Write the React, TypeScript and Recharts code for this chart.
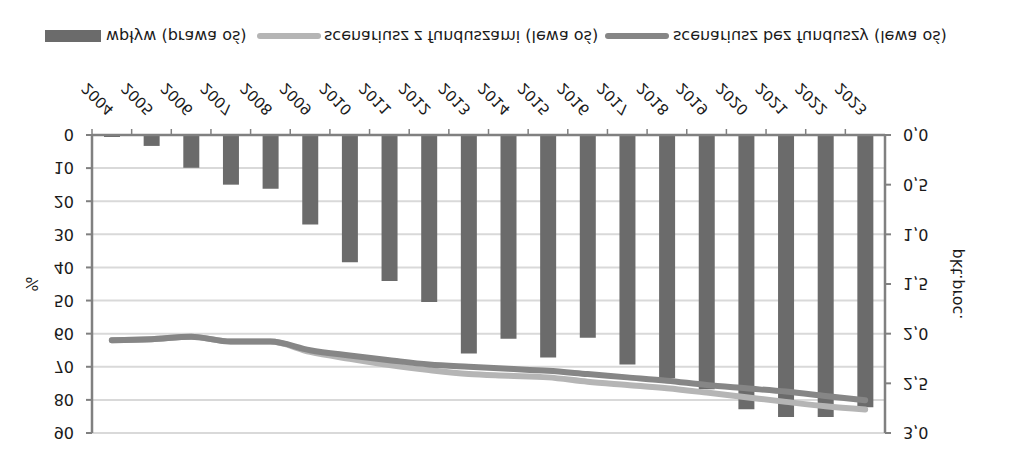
import React from "react";
import { ComposedChart, Bar, Line, XAxis, YAxis, CartesianGrid, Legend } from "recharts";

// The reference is printed upside down, so the chart is drawn normally and flipped with CSS.

const years = ["2004", "2005", "2006", "2007", "2008", "2009", "2010", "2011", "2012", "2013",
  "2014", "2015", "2016", "2017", "2018", "2019", "2020", "2021", "2022", "2023"];

// wpływ, pkt proc. (right axis)
const wplyw = [0.02, 0.11, 0.33, 0.5, 0.54, 0.9, 1.28, 1.47, 1.68, 2.2,
  2.05, 2.24, 2.04, 2.31, 2.45, 2.56, 2.76, 2.84, 2.84, 2.74];

// scenariusz z funduszami, % (left axis)
const zFunduszami = [62.0, 61.7, 60.9, 62.4, 62.4, 65.5, 67.6, 69.5, 71.0, 72.2,
  72.7, 73.2, 74.5, 75.5, 76.5, 77.8, 79.2, 80.6, 81.9, 82.9];

// scenariusz bez funduszy, % (left axis)
const bezFunduszy = [62.0, 61.7, 60.9, 62.4, 62.4, 65.0, 66.6, 68.0, 69.3, 70.0,
  70.6, 71.2, 72.2, 73.2, 74.2, 75.5, 76.5, 77.5, 78.8, 80.1];

const leftTicks = [0, 10, 20, 30, 40, 50, 60, 70, 80, 90];
const rightTicks = [0, 0.5, 1, 1.5, 2, 2.5, 3];

const chartData = years.map((year, i) => ({
  year,
  wplyw: wplyw[i],
  zFunduszami: zFunduszami[i],
  bezFunduszy: bezFunduszy[i],
}));

const FONT = "'DejaVu Sans', Verdana, sans-serif";
const AXIS = "#808080";
const BAR = "#6b6b6b";
const LIGHT = "#b5b5b5";
const DARK = "#868686";

const YearTick = (props: any) => {
  const { x, y, payload } = props;
  const half = payload && payload.offset ? payload.offset : 19.8;
  const ax = x + 3;
  const ay = y + 18;
  return (
    <g>
      <line x1={x - half} x2={x - half} y1={y - 8} y2={y - 2} stroke={AXIS} strokeWidth={1.5} />
      <text
        x={ax}
        y={ay}
        transform={`rotate(-45, ${ax}, ${ay})`}
        textAnchor="end"
        fontSize={15}
        fontFamily={FONT}
        fill="#1a1a1a"
      >
        {payload.value}
      </text>
    </g>
  );
};

const LeftTitle = (props: any) => {
  const vb = props.viewBox || {};
  const cx = 32;
  const cy = (vb.y || 0) + (vb.height || 0) / 2;
  return (
    <text x={cx} y={cy} transform={`rotate(-90, ${cx}, ${cy})`} textAnchor="middle"
      dominantBaseline="central" fontSize={16} fontFamily={FONT} fill="#1a1a1a">
      %
    </text>
  );
};

const RightTitle = (props: any) => {
  const vb = props.viewBox || {};
  const cx = 956;
  const cy = (vb.y || 0) + (vb.height || 0) / 2;
  return (
    <text x={cx} y={cy} transform={`rotate(-90, ${cx}, ${cy})`} textAnchor="middle"
      dominantBaseline="central" fontSize={16} fontFamily={FONT} fill="#1a1a1a">
      pkt.proc.
    </text>
  );
};

const LegendBox = () => {
  const text: React.CSSProperties = {
    position: "absolute",
    top: 6,
    fontSize: 16,
    fontFamily: FONT,
    color: "#1a1a1a",
    whiteSpace: "nowrap",
    lineHeight: "16px",
  };
  return (
    <div style={{ position: "relative", width: 1024, height: 50 }}>
      <div style={{ position: "absolute", left: 45, top: 8, width: 56, height: 12, background: BAR }} />
      <div style={{ ...text, left: 106 }}>wpływ (prawa oś)</div>
      <svg style={{ position: "absolute", left: 257, top: 8 }} width={64} height={12}>
        <line x1={3} x2={61} y1={6} y2={6} stroke={LIGHT} strokeWidth={6} strokeLinecap="round" />
      </svg>
      <div style={{ ...text, left: 324 }}>scenariusz z funduszami (lewa oś)</div>
      <svg style={{ position: "absolute", left: 605, top: 8 }} width={64} height={12}>
        <line x1={3} x2={61} y1={6} y2={6} stroke={DARK} strokeWidth={6} strokeLinecap="round" />
      </svg>
      <div style={{ ...text, left: 673 }}>scenariusz bez funduszy (lewa oś)</div>
    </div>
  );
};

export default function App() {
  return (
    <div
      style={{
        position: "absolute",
        left: 0,
        top: 0,
        width: 1024,
        height: 463,
        background: "#ffffff",
        transform: "scaleY(-1)",
        fontFamily: FONT,
      }}
    >
      <ComposedChart width={1024} height={463} data={chartData} margin={{ top: 30, right: 0, bottom: 0, left: 0 }}>
        <CartesianGrid vertical={false} stroke="#d9d9d9" strokeWidth={2} yAxisId="left" />
        <XAxis
          dataKey="year"
          height={85}
          interval={0}
          tick={<YearTick />}
          tickLine={false}
          axisLine={{ stroke: AXIS, strokeWidth: 2.5 }}
        />
        <YAxis
          yAxisId="left"
          orientation="left"
          width={92}
          domain={[0, 90]}
          ticks={leftTicks}
          interval={0}
          tickSize={6}
          tickMargin={12}
          tick={{ fontSize: 16, fontFamily: FONT, fill: "#1a1a1a" }}
          tickLine={{ stroke: AXIS, strokeWidth: 2 }}
          axisLine={{ stroke: AXIS, strokeWidth: 2.5 }}
          label={<LeftTitle />}
        />
        <YAxis
          yAxisId="right"
          orientation="right"
          width={139}
          domain={[0, 3]}
          ticks={rightTicks}
          interval={0}
          tickSize={6}
          tickMargin={12}
          tickFormatter={(v: number) => v.toFixed(1).replace(".", ",")}
          tick={{ fontSize: 16, fontFamily: FONT, fill: "#1a1a1a" }}
          tickLine={{ stroke: AXIS, strokeWidth: 2 }}
          axisLine={{ stroke: AXIS, strokeWidth: 2.5 }}
          label={<RightTitle />}
        />
        <Legend
          verticalAlign="bottom"
          content={<LegendBox />}
          wrapperStyle={{ left: 0, width: 1024, height: 50 }}
        />
        <Bar yAxisId="right" dataKey="wplyw" name="wpływ (prawa oś)" fill={BAR} barSize={16} isAnimationActive={false} />
        <Line
          yAxisId="left"
          type="monotone"
          dataKey="zFunduszami"
          name="scenariusz z funduszami (lewa oś)"
          stroke={LIGHT}
          strokeWidth={6}
          dot={false}
          strokeLinecap="round"
          isAnimationActive={false}
        />
        <Line
          yAxisId="left"
          type="monotone"
          dataKey="bezFunduszy"
          name="scenariusz bez funduszy (lewa oś)"
          stroke={DARK}
          strokeWidth={6}
          dot={false}
          strokeLinecap="round"
          isAnimationActive={false}
        />
      </ComposedChart>
    </div>
  );
}
